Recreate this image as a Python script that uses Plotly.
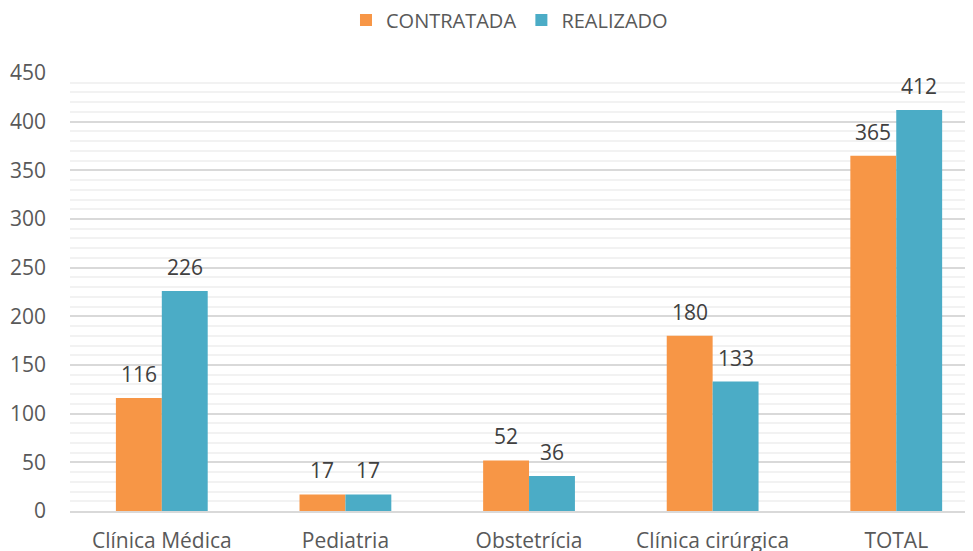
import plotly.graph_objects as go

categories = ["Clínica Médica", "Pediatria", "Obstetrícia", "Clínica cirúrgica", "TOTAL"]
contratada = [116, 17, 52, 180, 365]
realizado = [226, 17, 36, 133, 412]
series_names = ["CONTRATADA", "REALIZADO"]
y_ticks = [0, 50, 100, 150, 200, 250, 300, 350, 400, 450]

ORANGE = "#F79646"
BLUE = "#4BACC6"
FONT = "Open Sans"

fig = go.Figure()
fig.add_trace(go.Bar(name=series_names[0], x=categories, y=contratada, marker_color=ORANGE,
                     marker_line_width=0))
fig.add_trace(go.Bar(name=series_names[1], x=categories, y=realizado, marker_color=BLUE,
                     marker_line_width=0))

annotations = []
for i, c in enumerate(categories):
    for off, vals in ((-0.125, contratada), (0.125, realizado)):
        annotations.append(dict(x=i + off, y=vals[i], xref="x", yref="y", text=str(vals[i]),
                                showarrow=False, yanchor="bottom", yshift=8,
                                font=dict(family=FONT, size=21, color="#404040")))

# page body adds 8px offset; figure sized to fill the 973x551 window
W, H = 965, 543
fig.update_layout(
    width=W, height=H,
    margin=dict(l=62, r=0, t=65, b=40),
    paper_bgcolor="white", plot_bgcolor="white",
    barmode="group", bargap=0.5, bargroupgap=0,
    font=dict(family=FONT, size=21, color="#595959"),
    legend=dict(orientation="h", x=0.4867, xref="paper", xanchor="center", y=1 - 12 / H,
                yref="container", yanchor="middle",
                font=dict(family=FONT, size=20, color="#595959"), traceorder="normal"),
    annotations=annotations,
    showlegend=True,
)
fig.update_xaxes(range=[-0.5, 4.418], showgrid=False, showline=True, linecolor="#D9D9D9",
                 linewidth=1.5, ticks="", tickfont=dict(family=FONT, size=21, color="#595959"),
                 ticklabelstandoff=10, automargin=False)
fig.update_yaxes(range=[0, 450], tickvals=y_ticks, showgrid=True, gridcolor="#D9D9D9", gridwidth=1.5,
                 minor=dict(dtick=10, showgrid=True, gridcolor="#F2F2F2", gridwidth=1.5),
                 zeroline=False, showline=False, ticks="",
                 tickfont=dict(family=FONT, size=21, color="#595959"), ticklabelstandoff=23,
                 automargin=False)

fig.write_html("out.html")
